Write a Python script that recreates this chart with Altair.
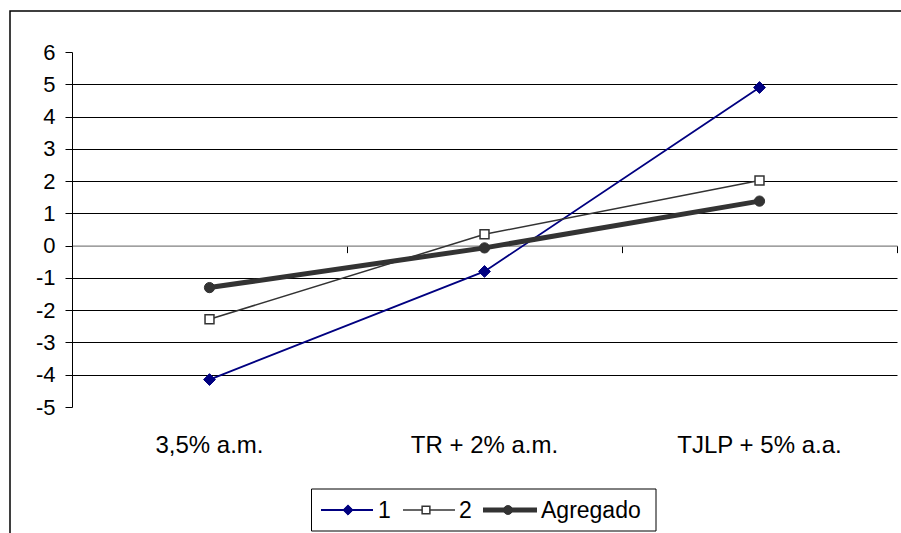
import altair as alt
import pandas as pd

# ---- data ----
categories = ["3,5% a.m.", "TR + 2% a.m.", "TJLP + 5% a.a."]
series_names = ["1", "2", "Agregado"]
serie_1 = [-4.15, -0.80, 4.90]
serie_2 = [-2.28, 0.35, 2.02]
agregado = [-1.30, -0.07, 1.38]
y_ticks = list(range(-5, 7))

rows = []
for name, vals in zip(series_names, [serie_1, serie_2, agregado]):
    for c, v in zip(categories, vals):
        rows.append({"cat": c, "series": name, "value": v})
df = pd.DataFrame(rows)
legend_df = pd.DataFrame({"series": series_names})

# ---- layout / style ----
W, H = 825, 355
YMIN, YMAX = -5, 6
FONT = "Liberation Sans"
zero_offset = -H * (0 - YMIN) / (YMAX - YMIN)

styles = {
    "1": dict(color="#000080", width=1.8, shape="diamond", fill="#000080", size=140, mstroke=1),
    "2": dict(color="#333333", width=1.5, shape="square", fill="white", size=80, mstroke=1.5),
    "Agregado": dict(color="#333333", width=5, shape="circle", fill="#333333", size=105, mstroke=1),
}

x_scale = alt.Scale(type="band", domain=categories, paddingInner=0, paddingOuter=0)
y_scale = alt.Scale(domain=[YMIN, YMAX], nice=False, zero=False)

y_axis = alt.Axis(
    title=None, values=y_ticks, labelExpr="'' + datum.value",
    labelFont=FONT, labelFontSize=22, labelColor="black", labelPadding=10,
    tickColor="black", tickSize=7, tickWidth=1,
    domainColor="black", domainWidth=1,
    grid=True, gridColor="#000000", gridWidth=1,
    gridOpacity={"condition": {"test": "datum.value == 6 || datum.value == -5 || datum.value == 0", "value": 0}, "value": 1},
)
x_label_axis = alt.Axis(
    title=None, orient="bottom", domain=False, ticks=False, grid=False,
    labelFont=FONT, labelFontSize=24, labelColor="black", labelAngle=0,
    labelBaseline="alphabetic", labelPadding=45,
)
x_zero_axis = alt.Axis(
    title=None, orient="bottom", offset=zero_offset, labels=False, grid=False,
    domain=True, domainColor="#808080", domainWidth=1.2,
    ticks=True, tickColor="black", tickSize=7, tickWidth=1, bandPosition=1,
)

base = alt.Chart(df)
layers = []

# outer border (no fill so the axes behind the marks stay visible)
frame = alt.Chart(pd.DataFrame({"k": [0]})).mark_rect(
    fill="transparent", fillOpacity=0, stroke="black", strokeWidth=1.5
).encode(x=alt.value(-62), x2=alt.value(W + 60), y=alt.value(-41), y2=alt.value(H + 200))
layers.append(frame)

Y = alt.Y("value:Q", scale=y_scale, axis=y_axis)

# zero line with category ticks
zero_layer = base.mark_point(opacity=0).encode(
    x=alt.X("cat:N", scale=x_scale, bandPosition=0.5, axis=x_zero_axis),
    y=Y,
)

first = True
for name in series_names:
    st = styles[name]
    sub = base.transform_filter(alt.datum.series == name)
    line = sub.mark_line(color=st["color"], strokeWidth=st["width"]).encode(
        x=alt.X("cat:N", scale=x_scale, bandPosition=0.5, axis=x_label_axis if first else None),
        y=Y,
    )
    first = False
    pts = sub.mark_point(
        shape=st["shape"], filled=True, fill=st["fill"], stroke=st["color"],
        strokeWidth=st["mstroke"], size=st["size"], opacity=1,
    ).encode(
        x=alt.X("cat:N", scale=x_scale, bandPosition=0.5, axis=None),
        y=Y,
    )
    layers += [line, pts]

layers.append(zero_layer)

# legend (drawn manually, below the plot)
leg_box = alt.Chart(pd.DataFrame({"k": [0]})).mark_rect(
    fill="white", stroke="black", strokeWidth=1
).encode(x=alt.value(239.5), x2=alt.value(584), y=alt.value(437), y2=alt.value(479))
layers.append(leg_box)

leg_pos = {
    "1": dict(x0=249, x1=301, m=276, t=306),
    "2": dict(x0=331, x1=383, m=354, t=387),
    "Agregado": dict(x0=411, x1=465, m=436, t=469),
}
LY = 458
for name in series_names:
    st = styles[name]
    p = leg_pos[name]
    sub = alt.Chart(legend_df).transform_filter(alt.datum.series == name)
    layers.append(sub.mark_rule(color=st["color"], strokeWidth=st["width"]).encode(
        x=alt.value(p["x0"]), x2=alt.value(p["x1"]), y=alt.value(LY)))
    layers.append(sub.mark_point(
        shape=st["shape"], filled=True, fill=st["fill"], stroke=st["color"],
        strokeWidth=st["mstroke"], size=st["size"] * 0.75, opacity=1,
    ).encode(x=alt.value(p["m"]), y=alt.value(LY)))
    layers.append(sub.mark_text(
        align="left", baseline="middle", font=FONT, fontSize=23, color="black"
    ).encode(x=alt.value(p["t"]), y=alt.value(LY + 1), text="series:N"))

chart = alt.layer(*layers).resolve_axis(x="independent").properties(
    width=W, height=H,
    autosize=alt.AutoSizeParams(type="none"),
    padding={"left": 72, "top": 52, "right": 4, "bottom": 126},
    background="white",
).configure_view(stroke=None)

chart.save("out.html", embed_options={"renderer": "svg", "actions": False})
